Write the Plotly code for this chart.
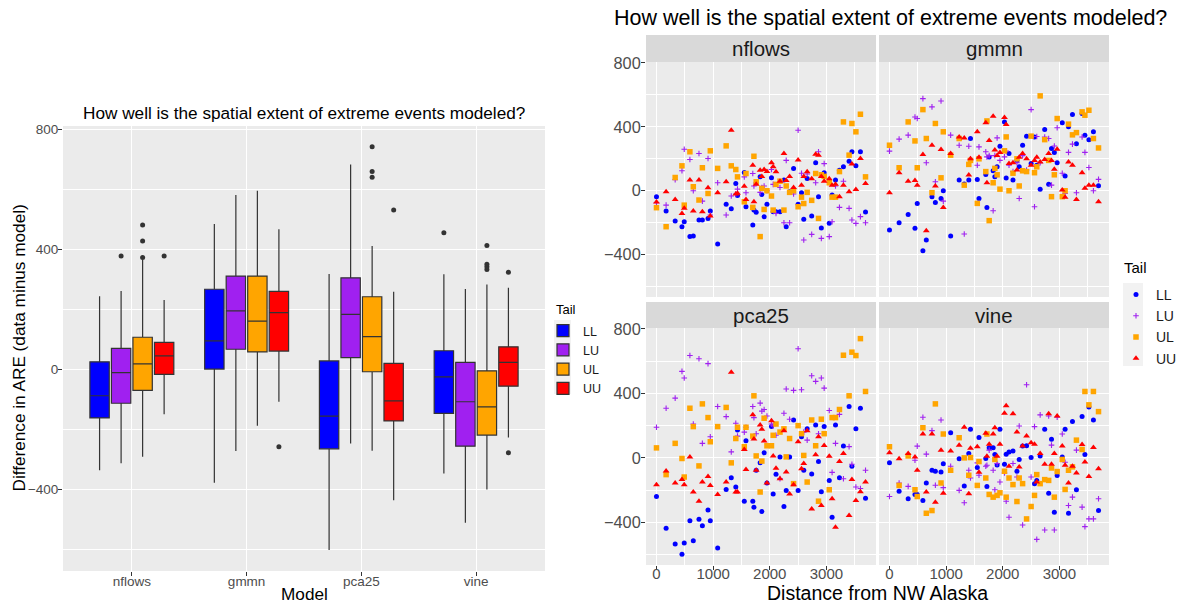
import plotly.graph_objects as go

W, H = 1178, 605
def fx(p): return p / W
def fy(p): return 1 - p / H

models = ["nflows", "gmmn", "pca25", "vine"]
tails = ["LL", "LU", "UL", "UU"]
tail_colors = ["#0000FF", "#A020F0", "#FFA500", "#FF0000"]

# ---- box plot statistics (order of models) ----
q1_LL = [-162, 1, -265, -147]
med_LL = [-88, 95, -156, -25]
q3_LL = [25, 267, 28, 62]
lo_LL = [-336, -378, -602, -347]
hi_LL = [244, 484, 318, 317]
out_LL = [[None], [None], [None], [455]]

q1_LU = [-113, 67, 39, -256]
med_LU = [-11, 195, 183, -108]
q3_LU = [70, 311, 305, 23]
lo_LU = [-313, -272, -247, -511]
hi_LU = [261, 581, 683, 268]
out_LU = [[378], [None], [None], [None]]

q1_UL = [-70, 58, -8, -219]
med_UL = [18, 161, 109, -125]
q3_UL = [107, 311, 242, -5]
lo_UL = [-291, -188, -271, -400]
hi_UL = [365, 595, 411, 283]
out_UL = [[373, 428, 481], [None], [640, 659, 742], [333, 342, 350, 413]]

q1_UU = [-17, 61, -172, -56]
med_UU = [45, 189, -105, 23]
q3_UU = [90, 260, 20, 75]
lo_UU = [-150, -108, -436, -227]
hi_UU = [231, 467, 259, 272]
out_UU = [[378], [-258], [531], [-278, 324]]

# ---- scatter data: distance from NW Alaska, shared locations ----
dist = [0, 170, 330, 450, 490, 590, 650, 750, 810, 910, 950, 1080, 1230, 1320, 1400, 1430,
        1550, 1580, 1700, 1720, 1760, 1830, 1860, 1900, 1950, 2030, 2060, 2110, 2180, 2250,
        2290, 2350, 2420, 2500, 2560, 2600, 2660, 2740, 2810, 2860, 2910, 2960, 3050, 3100,
        3160, 3230, 3300, 3400, 3450, 3520, 3600, 3690]

nflows_LL = [-37, -127, -190, -225, -194, -287, -283, -183, -183, -173, -127, -333, -85, -112, 46, -30, 115, -100, -215, -120, -135, 87, -23, -162, -85, 81, -131, -131, -131, 67, -225, -6, 140, -85, -12, -179, 77, -158, 175, -37, -233, 112, -204, -27, 67, 129, 150, 185, 244, 156, 244, -133]
nflows_LU = [-75, -90, 70, 125, 260, 196, 0, 233, -65, 202, -152, 50, -152, -33, -20, 10, 87, -12, 108, 30, 50, -10, 20, 30, 0, 133, 40, -142, 20, -200, 190, -200, -20, 379, 110, -308, 105, -273, 50, 244, -298, 170, -287, -194, 30, -104, 60, -110, -183, -204, -162, -200]
nflows_UL = [-106, -225, 83, 156, -90, 244, 25, -58, 144, -17, 250, 140, 281, 156, 133, 87, -69, 108, -104, 216, 56, -287, 15, -117, 0, -33, -121, 40, 60, -121, 30, -10, 0, -100, -40, -80, -10, -60, 108, -173, 100, 90, 50, -40, -40, 120, 431, 223, 421, 369, 479, 87]
nflows_UU = [-71, -6, -54, -142, -110, 67, -127, 67, -131, 19, -158, -12, 56, 379, -21, -15, 29, -54, 160, -69, 40, 129, 90, 133, 120, 175, 150, 119, 60, 233, 65, 90, 20, 192, 35, 90, 119, 75, 229, 223, 90, 60, 75, 35, 40, -37, 35, -6, 167, 8, 202, 46]

gmmn_LL = [-246, -200, -148, -235, -79, -375, -308, -37, -73, -48, 0, -283, 67, 42, 67, 327, 71, -48, 102, -104, 212, 125, 88, 150, 279, 431, 80, 233, 67, 190, 150, 285, 342, 170, 337, 160, 10, 383, 40, 265, 240, 175, 425, 92, 400, 477, 295, 483, 348, 320, 369, 31]
gmmn_LU = [248, 323, 348, 462, 452, 577, 175, 525, 56, 562, -65, 348, 285, -271, 279, 200, 160, 275, 244, 212, 220, -125, 220, 331, 190, 212, 248, 160, 120, 175, -48, 220, 130, 508, -100, 340, 175, 337, 327, 35, 280, 394, 110, -17, 240, 292, -12, 337, 240, 146, 0, 71]
gmmn_UL = [285, 144, 431, 312, 144, 508, 327, -12, 421, 81, 369, 223, 327, 35, 165, 190, -79, 200, 120, 437, -187, 50, 140, 100, 10, 250, 337, 0, 110, 200, 30, 125, 120, 342, 113, 150, 594, 320, 190, -37, 100, 452, -37, 0, 417, 350, 364, 494, 473, 504, 327, 268]
gmmn_UU = [-12, 112, 60, 65, 35, 227, -250, 285, 30, 258, -104, 233, 337, 330, 98, 200, 369, 210, 425, 50, 315, 467, 255, 220, 240, 458, 415, 170, 175, 130, 210, 233, 200, 160, 190, 210, 180, 195, 233, 190, 135, 260, 5, -40, 180, 160, -54, 112, 15, 35, 35, -69]

pca25_LL = [-240, -437, -535, -598, -529, -390, -515, -381, -421, -323, -390, -560, -196, -123, -181, 173, -269, 106, -269, -306, -77, -31, -333, 31, -156, 194, -225, -102, 6, -302, -202, 6, 235, -202, 131, -77, 181, -100, 204, -23, -210, 194, -140, -369, 204, -123, 73, 319, -52, 181, 308, -250]
pca25_LU = [190, 308, 371, 537, 496, 635, 210, 615, 90, 585, 131, 319, 256, 37, 215, 135, 160, 190, 319, 250, 150, 340, 290, 300, 260, 210, 200, 140, -129, 277, 427, 240, 419, 677, 423, 160, 110, 510, 475, 150, 496, 433, 294, -90, 90, 270, -130, 70, -40, -181, -190, -77]
pca25_UL = [62, -104, 90, -4, -119, 308, 194, -50, 335, 250, 100, 194, 313, -31, 120, 190, 69, 190, 135, 385, 12, -212, -20, 246, 75, 75, 140, 210, 160, 180, 6, 120, -160, 200, 150, 15, -150, 235, 75, -269, 240, 150, -198, 250, 250, 300, 637, 385, 656, 635, 740, 412]
pca25_UU = [-167, -81, -156, -135, -167, 6, -212, -269, -150, -115, -171, -227, -150, 531, -212, -212, 52, -73, 267, 117, -77, 204, 177, 104, -156, 231, 12, -65, -129, 169, -88, -225, -167, 100, -67, -35, 169, -317, 19, 131, -296, 77, 10, -254, -431, -23, 27, -358, -135, -265, -210, -150]

vine_LL = [-31, -208, -254, -227, -227, -265, -156, -77, -83, -87, -37, 156, -6, -175, 27, 177, -60, 127, -4, -177, 62, 62, 21, -44, 177, -40, 23, 37, 42, -83, -10, 73, 75, 2, -160, -140, 12, 177, -219, 115, -337, -110, 6, 177, -344, 225, -198, 256, 21, 315, 235, -327]
vine_LU = [-240, -156, -177, -15, 73, 252, 23, 169, -170, 235, -185, -52, -202, -279, -77, -125, -31, -108, -52, -46, 48, -77, -198, -35, -150, -94, -269, -369, -35, -119, 198, -417, 454, -119, 194, -506, 267, -448, 260, 79, -448, 252, 148, -27, -296, -244, 48, -306, -427, -379, -379, -254]
vine_UL = [69, -171, 12, -198, -240, 187, -344, -327, 335, -156, 148, -77, 125, 0, -108, 2, -171, -23, -125, 148, -227, -244, -10, -233, -217, -83, -244, -125, -166, -271, -125, -160, -379, -302, -233, -104, -160, -135, -140, -63, -244, -85, -10, -196, -77, -56, 110, 52, 412, 329, 412, 287]
vine_UU = [31, -6, 27, 6, -77, 148, -212, 148, -275, 48, -219, 42, 79, 190, -223, 60, 69, -90, 152, 10, 85, 148, 187, 10, 85, 277, 323, -52, 273, 160, -56, 73, 135, 94, 85, -150, 27, -40, 273, -40, 27, 260, 73, -46, -156, -52, -94, 83, -25, -115, 65, -67]

scatter = {
    "nflows": [nflows_LL, nflows_LU, nflows_UL, nflows_UU],
    "gmmn": [gmmn_LL, gmmn_LU, gmmn_UL, gmmn_UU],
    "pca25": [pca25_LL, pca25_LU, pca25_UL, pca25_UU],
    "vine": [vine_LL, vine_LU, vine_UL, vine_UU],
}
for k, v in scatter.items():
    for s in v:
        assert len(s) == len(dist), (k, len(s))

box_stats = [
    (q1_LL, med_LL, q3_LL, lo_LL, hi_LL, out_LL),
    (q1_LU, med_LU, q3_LU, lo_LU, hi_LU, out_LU),
    (q1_UL, med_UL, q3_UL, lo_UL, hi_UL, out_UL),
    (q1_UU, med_UU, q3_UU, lo_UU, hi_UU, out_UU),
]

fig = go.Figure()
FONT = "Liberation Sans, Arial, sans-serif"
TICKC = "#4D4D4D"

# ---- left: box plots ----
for t, col, (q1, md, q3, lo, hi, out) in zip(tails, tail_colors, box_stats):
    fig.add_trace(go.Box(
        name=t, x=models, q1=q1, median=md, q3=q3, lowerfence=lo, upperfence=hi,
        y=out, boxpoints="all", jitter=0, pointpos=0,
        fillcolor=col, line=dict(color="#333333", width=1.2), whiskerwidth=0,
        marker=dict(color="#333333", size=5),
        offsetgroup=t, xaxis="x", yaxis="y", legend="legend",
        hoverinfo="skip",
    ))

# ---- right: facet scatter ----
symbols = [dict(symbol="circle", size=5),
           dict(symbol="cross-thin", size=4),
           dict(symbol="square", size=5.5),
           dict(symbol="triangle-up", size=6)]
axes_map = {"nflows": ("x2", "y2"), "gmmn": ("x3", "y3"), "pca25": ("x4", "y4"), "vine": ("x5", "y5")}
for pi, m in enumerate(models):
    xa, ya = axes_map[m]
    for ti, (t, col) in enumerate(zip(tails, tail_colors)):
        mk = dict(color=col, **symbols[ti])
        if symbols[ti]["symbol"] == "cross-thin":
            mk["line"] = dict(color=col, width=1.1)
        else:
            mk["line"] = dict(width=0)
        fig.add_trace(go.Scatter(
            x=dist, y=scatter[m][ti], mode="markers", name=t, marker=mk,
            xaxis=xa, yaxis=ya, legend="legend2", showlegend=(pi == 0),
            hoverinfo="skip",
        ))

# ---- layout ----
grid = dict(showgrid=True, gridcolor="white", gridwidth=1.1, zeroline=False,
            showline=False, automargin=False)
minor_grid = dict(showgrid=True, gridcolor="white", gridwidth=0.5)

col_x = [(646, 876), (879, 1109)]
row_y = [(62, 297), (328, 565)]
strip_y = [(35, 62), (302, 328)]

layout = dict(
    width=W, height=H, margin=dict(l=0, r=0, t=0, b=0, autoexpand=False),
    paper_bgcolor="white", plot_bgcolor="#EBEBEB",
    font=dict(family=FONT, color="#1A1A1A"),
    boxmode="group", boxgap=0.25, boxgroupgap=0.1,
    xaxis=dict(domain=[fx(63), fx(545)], type="category", range=[-0.6, 3.6],
               ticks="outside", ticklen=4, tickcolor="#333333", ticklabelstandoff=-6,
               tickfont=dict(size=13.5, color=TICKC), **grid),
    yaxis=dict(domain=[fy(571), fy(126)], range=[-672, 811], tickmode="linear",
               tick0=0, dtick=400, ticks="outside", ticklen=4, tickcolor="#333333",
               ticklabelstandoff=-3,
               tickfont=dict(size=13.5, color=TICKC),
               minor=dict(dtick=200, tick0=0, **minor_grid), **grid),
    showlegend=True,
    legend=dict(x=fx(543), y=fy(316), xanchor="left", yanchor="top",
                font=dict(size=12.5, color="#1A1A1A"), bgcolor="rgba(0,0,0,0)",
                itemwidth=30, tracegroupgap=0),
    legend2=dict(x=fx(1116), y=fy(279), xanchor="left", yanchor="top",
                 font=dict(size=14, color="#1A1A1A"), bgcolor="rgba(0,0,0,0)",
                 itemwidth=30, tracegroupgap=0),
)

for i, m in enumerate(models):
    r, c = divmod(i, 2)
    xa, ya = axes_map[m]
    xn = "xaxis" + xa[1:]
    yn = "yaxis" + ya[1:]
    layout[xn] = dict(domain=[fx(col_x[c][0]), fx(col_x[c][1])], range=[-185, 3875],
                      anchor=ya, tickmode="linear", tick0=0, dtick=1000,
                      showticklabels=(r == 1), ticks="outside" if r == 1 else "",
                      ticklen=4, tickcolor="#333333", ticklabelstandoff=-9,
                      tickfont=dict(size=15, color=TICKC),
                      minor=dict(dtick=500, tick0=0, **minor_grid), **grid)
    layout[yn] = dict(domain=[fy(row_y[r][1]), fy(row_y[r][0])], range=[-665, 806],
                      anchor=xa, tickmode="linear", tick0=0, dtick=400,
                      showticklabels=(c == 0), ticks="outside" if c == 0 else "",
                      ticklen=4, tickcolor="#333333", ticklabelstandoff=-3,
                      tickfont=dict(size=16.3, color=TICKC),
                      minor=dict(dtick=200, tick0=0, **minor_grid), **grid)

fig.update_layout(**layout)

shapes = []
annotations = []
for i, m in enumerate(models):
    r, c = divmod(i, 2)
    x0, x1 = col_x[c]
    y0, y1 = strip_y[r]
    shapes.append(dict(type="rect", xref="paper", yref="paper", x0=fx(x0), x1=fx(x1),
                       y0=fy(y1), y1=fy(y0), fillcolor="#D9D9D9", line=dict(width=0),
                       layer="below"))
    annotations.append(dict(text=m, xref="paper", yref="paper", x=fx((x0 + x1) / 2),
                            y=fy((y0 + y1) / 2), showarrow=False, xanchor="center",
                            yanchor="middle", font=dict(size=20.5, color="#1A1A1A")))

# legend key backgrounds
shapes.append(dict(type="rect", xref="paper", yref="paper", x0=fx(554), x1=fx(571),
                   y0=fy(394), y1=fy(320), fillcolor="#F2F2F2", line=dict(width=0), layer="below"))
shapes.append(dict(type="rect", xref="paper", yref="paper", x0=fx(1123), x1=fx(1143),
                   y0=fy(366), y1=fy(283), fillcolor="#F2F2F2", line=dict(width=0), layer="below"))

annotations += [
    dict(text="Tail", xref="paper", yref="paper", x=fx(554), y=fy(309), showarrow=False,
         xanchor="left", yanchor="middle", font=dict(size=13, color="#000000")),
    dict(text="Tail", xref="paper", yref="paper", x=fx(1122), y=fy(268), showarrow=False,
         xanchor="left", yanchor="middle", font=dict(size=15, color="#000000")),
    dict(text="How well is the spatial extent of extreme events modeled?", xref="paper",
         yref="paper", x=fx(304), y=fy(113), showarrow=False, xanchor="center",
         yanchor="middle", font=dict(size=17.2, color="#000000")),
    dict(text="How well is the spatial extent of extreme events modeled?", xref="paper",
         yref="paper", x=fx(612), y=fy(18), showarrow=False, xanchor="left",
         yanchor="middle", font=dict(size=21.5, color="#000000")),
    dict(text="Model", xref="paper", yref="paper", x=fx(304), y=fy(594), showarrow=False,
         xanchor="center", yanchor="middle", font=dict(size=17.2, color="#000000")),
    dict(text="Distance from NW Alaska", xref="paper", yref="paper", x=fx(877.5),
         y=0, showarrow=False, xanchor="center", yanchor="bottom", borderpad=0,
         font=dict(size=19.5, color="#000000")),
    dict(text="Difference in ARE (data minus model)", xref="paper", yref="paper",
         x=fx(18), y=fy(348.5), showarrow=False, textangle=-90, xanchor="center",
         yanchor="middle", font=dict(size=17.2, color="#000000")),
]
fig.update_layout(shapes=shapes, annotations=annotations)

fig.write_html("out.html")
